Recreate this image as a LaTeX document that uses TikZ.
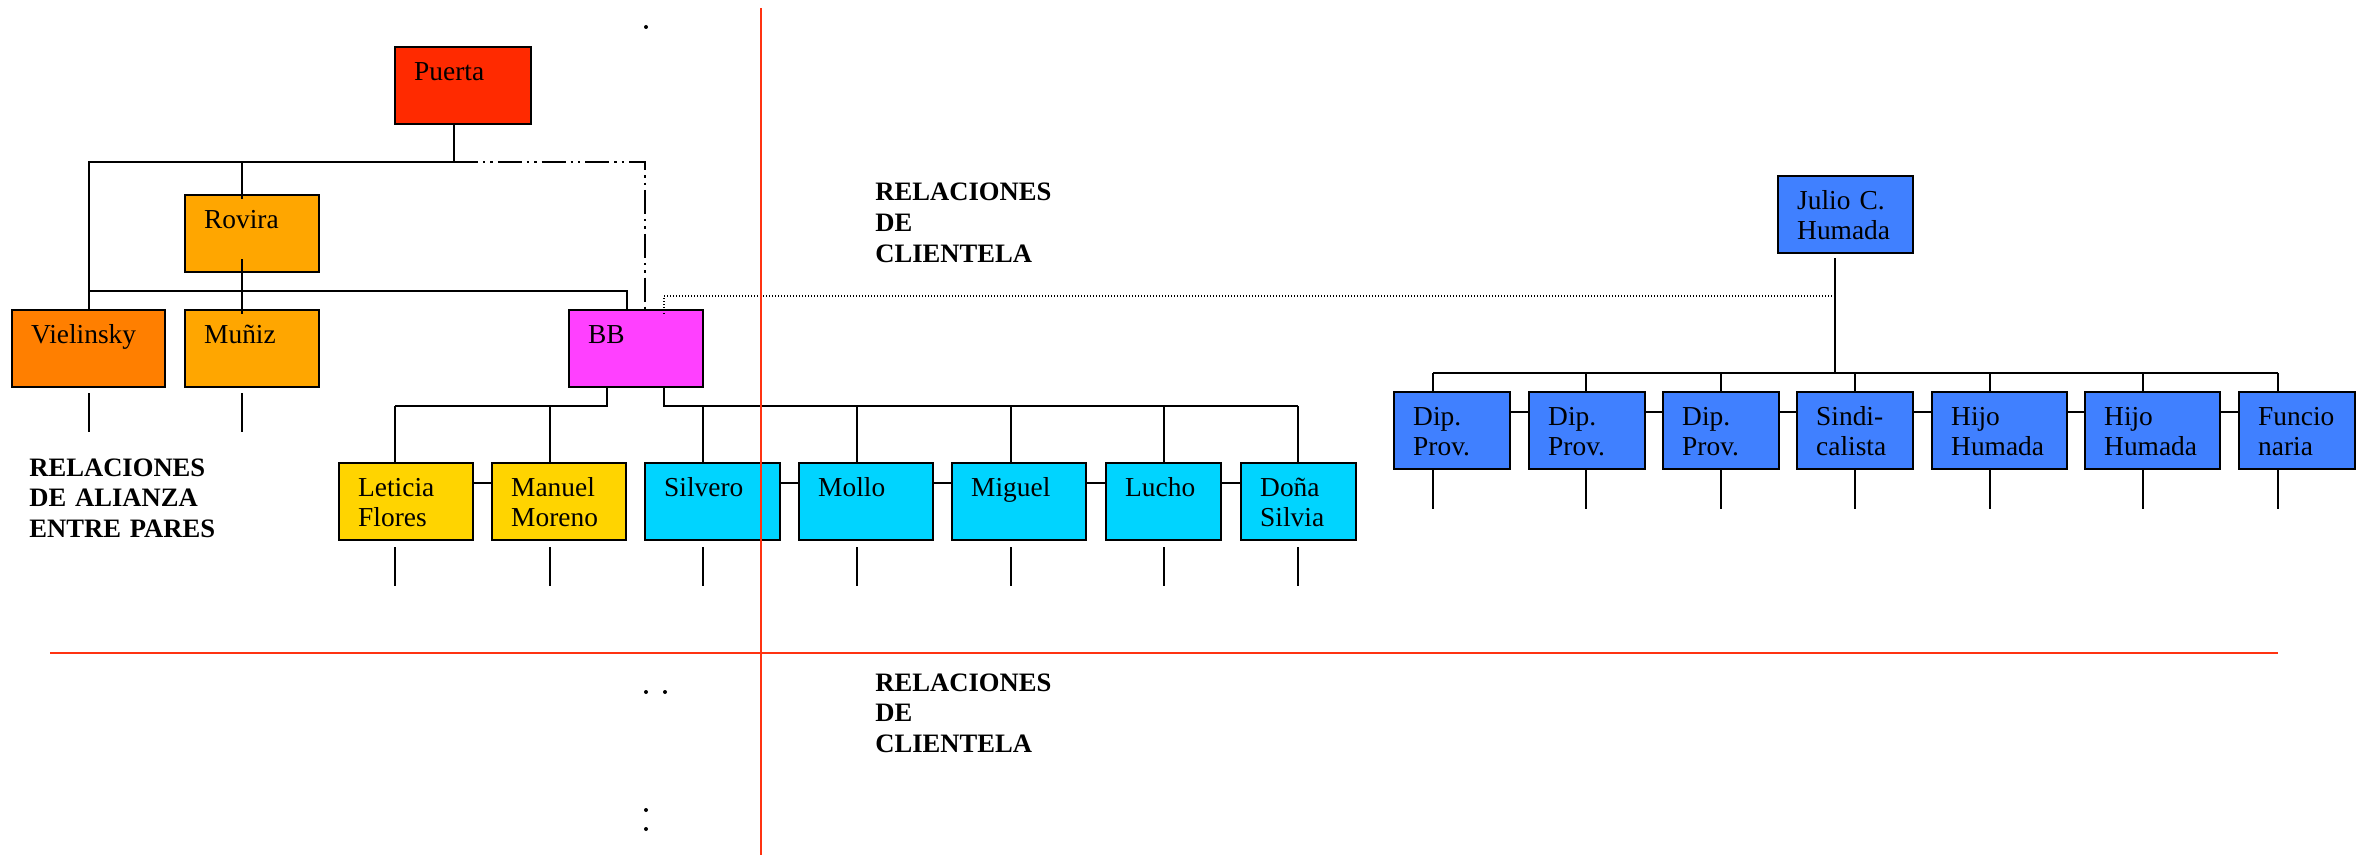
\documentclass[tikz,border=0pt]{standalone}
\usepackage{fontspec}
\setmainfont{Liberation Serif}
\usetikzlibrary{fit}
\definecolor{cPuerta}{RGB}{255,42,0}
\definecolor{cViel}{RGB}{255,127,0}
\definecolor{cRov}{RGB}{255,166,0}
\definecolor{cBB}{RGB}{255,64,255}
\definecolor{cGold}{RGB}{255,212,0}
\definecolor{cCyan}{RGB}{0,212,255}
\definecolor{cBlue}{RGB}{64,128,255}
\definecolor{cRed}{RGB}{255,51,17}
\newcommand\mybox[7]{%
  \node[box, fill=#6, fit={(#2,#3)(#4,#5)}] (#1) {};
  \node[lbl, xshift=10pt, yshift=-17.5pt] (#1t) at (#1.north west) {#7};}
\begin{document}
\begin{tikzpicture}[x=0.5pt,y=-0.5pt,
  box/.style={draw, line width=1.2pt, inner sep=0pt},
  lbl/.style={font=\fontsize{13.7}{15}\selectfont, inner sep=0pt, anchor=base west, text width=62pt, align=left},
  blbl/.style={font=\fontsize{13.3}{15.4}\selectfont\bfseries, inner sep=0pt, anchor=base west, text width=100pt, align=left},
  conn/.style={line width=1pt},
  thinline/.style={line width=0.75pt},
  dashdottwo/.style={line width=1pt, dash pattern=on 12pt off 2.5pt on 1.2pt off 2.5pt on 1.2pt off 2.5pt},
  dotline/.style={line width=0.6pt, dash pattern=on 0.6pt off 0.9pt},
  redline/.style={line width=1pt, draw=cRed},
]
\useasboundingbox (0,0) rectangle (2365,855);

% boxes
\mybox{puerta}{395}{47}{531}{124}{cPuerta}{Puerta}
\mybox{rovira}{185}{195}{319}{272}{cRov}{Rovira}
\mybox{viel}{12}{310}{165}{387}{cViel}{Vielinsky}
\mybox{muniz}{185}{310}{319}{387}{cRov}{Muñiz}
\mybox{bb}{569}{310}{703}{387}{cBB}{BB}
\mybox{leticia}{339}{463}{473}{540}{cGold}{Leticia\\Flores}
\mybox{manuel}{492}{463}{626}{540}{cGold}{Manuel\\Moreno}
\mybox{silvero}{645}{463}{780}{540}{cCyan}{Silvero}
\mybox{mollo}{799}{463}{933}{540}{cCyan}{Mollo}
\mybox{miguel}{952}{463}{1086}{540}{cCyan}{Miguel}
\mybox{lucho}{1106}{463}{1221}{540}{cCyan}{Lucho}
\mybox{dona}{1241}{463}{1356}{540}{cCyan}{Doña\\Silvia}
\mybox{julio}{1778}{176}{1913}{253}{cBlue}{Julio C.\\Humada}
\mybox{dipa}{1394}{392}{1510}{469}{cBlue}{Dip.\\Prov.}
\mybox{dipb}{1529}{392}{1645}{469}{cBlue}{Dip.\\Prov.}
\mybox{dipc}{1663}{392}{1779}{469}{cBlue}{Dip.\\Prov.}
\mybox{sindi}{1797}{392}{1913}{469}{cBlue}{Sindi-\\calista}
\mybox{hijoa}{1932}{392}{2067}{469}{cBlue}{Hijo\\Humada}
\mybox{hijob}{2085}{392}{2220}{469}{cBlue}{Hijo\\Humada}
\mybox{funcio}{2239}{392}{2355}{469}{cBlue}{Funcio\\naria}

% junction coordinates
\coordinate (j1) at (454,162);
\coordinate (jL) at (89,162);
\coordinate (jR) at (242,162);
\coordinate (jD) at (645,162);
\coordinate (jM) at (89,291);
\coordinate (jB) at (627,291);
\coordinate (dt) at (664,296);
\coordinate (jJ) at (1835,296);
\coordinate (hJ) at (1835,373);
\coordinate (hL) at (1433,373);
\coordinate (hR) at (2278,373);
\coordinate (bL) at (607,406);
\coordinate (bLL) at (395,406);
\coordinate (bR) at (664,406);
\coordinate (bRR) at (1298,406);

% left tree
\draw[conn] (puerta.south -| j1) -- (j1) -- (jL) -- (viel.north -| jL);
\draw[conn] (jR) -- (rovira.north -| jR) -- ++(0,5);
\draw[conn] (rovira.south -| jR) ++(0,-14) -- (muniz.north -| jR) -- ++(0,5);
\draw[conn] (jM) -- (jB) -- (bb.north -| jB);
\draw[dashdottwo] (j1) -- (jD) -- (bb.north -| jD) -- ++(0,5);
\draw[dotline] (bb.north -| dt) ++(0,5) -- (dt) -- (jJ);
\draw[thinline] (viel.south -| jL) ++(0,5) -- ++(0,39);
\draw[thinline] (muniz.south -| jR) ++(0,5) -- ++(0,39);

% BB subtree
\draw[conn] (bb.south -| bL) -- (bL) -- (bLL);
\draw[conn] (bb.south -| bR) -- (bR) -- (bRR);
\foreach \n/\x in {leticia/395, manuel/550, silvero/703, mollo/857, miguel/1011, lucho/1164, dona/1298}{
  \draw[thinline] (\x,406) -- (\n.north -| \x,0);
  \draw[thinline] (\n.south -| \x,0) ++(0,6) -- ++(0,39);
}
\foreach \a/\b in {leticia/manuel, silvero/mollo, mollo/miguel, miguel/lucho, lucho/dona}{
  \draw[conn] (\a.east |- 0,483) -- (\b.west |- 0,483);
}

% Humada tree
\draw[conn] (julio.south -| jJ) ++(0,4) -- (hJ);
\draw[conn] (hL) -- (hR);
\foreach \n/\x in {dipa/1433, dipb/1586, dipc/1721, sindi/1855, hijoa/1990, hijob/2143, funcio/2278}{
  \draw[thinline] (\x,373) -- (\n.north -| \x,0);
  \draw[thinline] (\n.south -| \x,0) -- ++(0,39);
}
\foreach \a/\b in {dipa/dipb, dipb/dipc, dipc/sindi, sindi/hijoa, hijoa/hijob, hijob/funcio}{
  \draw[conn] (\a.east |- 0,412) -- (\b.west |- 0,412);
}

% texts
\node[blbl] (t1) at (875,201) {RELACIONES\\DE\\CLIENTELA};
\node[blbl] (t2) at (875,691) {RELACIONES\\DE\\CLIENTELA};
\node[blbl] (t3) at (29,476) {RELACIONES\\DE ALIANZA\\ENTRE PARES};

% red axes
\coordinate (rT) at (761,8);
\coordinate (rB) at (761,855);
\coordinate (rL) at (50,653);
\coordinate (rR) at (2278,653);
\draw[redline] (rT) -- (rB);
\draw[redline] (rL) -- (rR);

% stray dots
\foreach \p in {(646,27),(646,692),(665,692),(646,810),(646,829)}{
  \fill \p circle (1pt);
}
\end{tikzpicture}
\end{document}
